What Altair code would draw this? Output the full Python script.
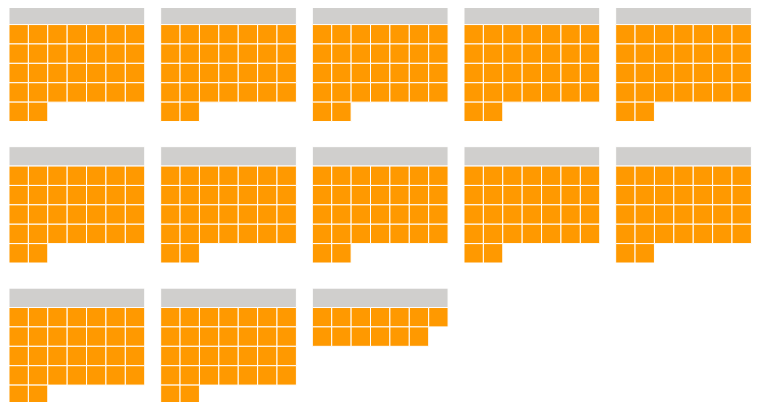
import altair as alt
import pandas as pd

# number of filled cells in each of the 13 panels
panels = ["P01", "P02", "P03", "P04", "P05", "P06", "P07", "P08", "P09", "P10", "P11", "P12", "P13"]
counts = [30, 30, 30, 30, 30, 30, 30, 30, 30, 30, 30, 30, 13]
ncols = 7

rows = []
for p, n in zip(panels, counts):
    rows.append({"panel": p, "kind": "header", "x0": 0, "x1": ncols, "y0": 0, "y1": 1})
    for i in range(n):
        c, r = i % ncols, i // ncols + 1
        rows.append({"panel": p, "kind": "cell", "x0": c, "x1": c + 1, "y0": r, "y1": r + 1})
df = pd.DataFrame(rows)

base = alt.Chart(df).mark_rect(stroke="white", strokeWidth=1).encode(
    x=alt.X("x0:Q", axis=None, scale=alt.Scale(domain=[0, 7], nice=False, zero=False)),
    x2="x1:Q",
    y=alt.Y("y0:Q", axis=None, scale=alt.Scale(domain=[0, 6], nice=False, zero=False, reverse=True)),
    y2="y1:Q",
    color=alt.Color("kind:N", legend=None,
                    scale=alt.Scale(domain=["header", "cell"], range=["#d0cfcd", "#ff9900"])),
).properties(width=137.2, height=117.6)

chart = base.facet(
    facet=alt.Facet("panel:N", sort=panels, title=None,
                    header=alt.Header(labelExpr="''", labelFontSize=0, labelColor="transparent",
                                      labelPadding=0, title=None, titlePadding=0)),
    columns=5,
    spacing={"row": 23, "column": 14.3},
).properties(
    padding={"left": 0, "top": -6, "right": 0, "bottom": 0}
).configure_view(stroke=None)

chart.save("out.html", embed_options={"renderer": "svg", "actions": False})
